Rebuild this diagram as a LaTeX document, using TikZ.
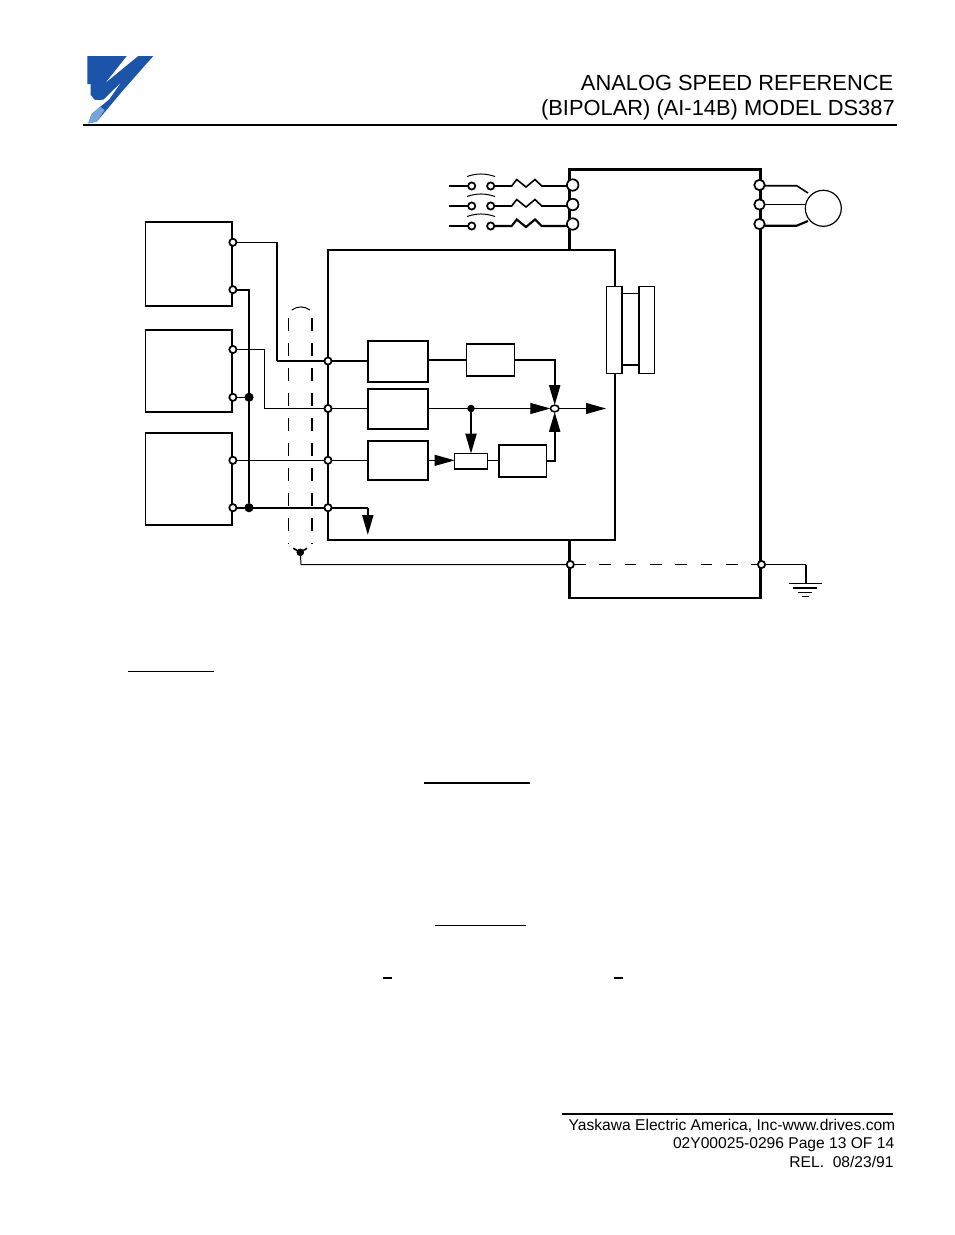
\documentclass[tikz,border=0pt]{standalone}
\usepackage{fontspec}
\setmainfont{Liberation Sans}
\usetikzlibrary{arrows.meta,shapes.geometric}
\definecolor{logoBlue}{RGB}{28,84,170}
\definecolor{logoPale}{RGB}{120,165,215}
\begin{document}
\begin{tikzpicture}[x = 0.75pt, y = -0.75pt]
\tikzstyle{thinLine} = [line width = 0.75pt]
\tikzstyle{medLine} = [line width = 1.2pt]
\tikzstyle{thickLine} = [line width = 1.6pt]
\tikzstyle{boxStyle} = [shape = rectangle, draw, fill = white, line width = 1.2pt, inner sep = 0pt, outer sep = 0pt]
\tikzstyle{blockStyle} = [boxStyle, line width = 1.5pt]
\tikzstyle{termStyle} = [shape = circle, draw, fill = white, line width = 1.3pt, minimum size = 5.4pt, inner sep = 0pt, outer sep = 0pt]
\tikzstyle{powerStyle} = [termStyle, line width = 1.3pt, minimum size = 8.6pt]
\tikzstyle{dotStyle} = [shape = circle, draw, fill, minimum size = 6.4pt, inner sep = 0pt, outer sep = 0pt]
\tikzstyle{tipStyle} = [-{Triangle[length = 15pt, width = 8.2pt]}]
\tikzstyle{shieldStyle} = [dash pattern = on 9.4pt off 9.35pt]
\tikzstyle{textStyle} = [inner sep = 0pt, anchor = base east]
\useasboundingbox (0,0) rectangle (954,1235);
% logo
\fill[logoBlue] (87.3,56) -- (126.7,56) -- (105,83.3) -- (138.3,56) -- (153.3,56)
 -- (123.3,90) -- (96.7,121.7) -- (88.3,123.3) -- (91.7,114) -- (109.3,99.3) -- (121.7,81.7) -- (103.3,99.7)
 -- (95,100) -- (90.7,95) -- (90.7,84) -- (87.3,84) -- cycle;
\fill[logoPale] (91.7,114) -- (100,106.5) -- (104.5,110) -- (96.7,121.7) -- (88.3,123.3) -- cycle;
% header
\draw[line width = 1.5pt] (83,124.5) -- (897,124.5);
\node[textStyle, font = \fontsize{16.4}{20}\selectfont] (title1) at (893.5,90) {ANALOG SPEED REFERENCE};
\node[textStyle, font = \fontsize{16.4}{20}\selectfont] (title2) at (895,115) {(BIPOLAR) (AI-14B) MODEL DS387};
% boxes
\node[boxStyle, line width = 1.7pt, minimum width = 143.25pt, minimum height = 321.4pt] (drive) at (665,383.75) {};
\node[blockStyle, minimum width = 215.25pt, minimum height = 217.5pt] (ctrl) at (471.5,395) {};
\node[boxStyle, minimum width = 64.9pt, minimum height = 63pt] (sourceA) at (188.75,264) {};
\node[boxStyle, minimum width = 64.9pt, minimum height = 61.7pt] (sourceB) at (188.75,371.15) {};
\node[boxStyle, minimum width = 64.9pt, minimum height = 69.2pt] (sourceC) at (188.75,478.85) {};
\node[blockStyle, minimum width = 45pt, minimum height = 30.5pt] (ampA) at (397.8,361.65) {};
\node[blockStyle, minimum width = 45pt, minimum height = 30.2pt] (ampB) at (397.8,409.15) {};
\node[blockStyle, minimum width = 45pt, minimum height = 29.5pt] (ampC) at (397.8,460.35) {};
\node[boxStyle, minimum width = 36pt, minimum height = 24.2pt] (gainA) at (490.3,359.85) {};
\node[boxStyle, minimum width = 24.5pt, minimum height = 11.5pt] (mult) at (471,461.35) {};
\node[boxStyle, minimum width = 35.7pt, minimum height = 24.2pt] (gainB) at (522.5,460.85) {};
\node[boxStyle, minimum width = 11.5pt, minimum height = 65.25pt] (barA) at (614.35,329.8) {};
\node[boxStyle, minimum width = 11.7pt, minimum height = 65.25pt] (barB) at (646.5,329.8) {};
\node[shape = circle, draw, line width = 0.9pt, minimum size = 27pt, inner sep = 0pt, outer sep = 0pt] (motor) at (823.3,208.3) {};
\node[shape = ellipse, draw, fill = white, line width = 1.2pt, minimum width = 6.4pt, minimum height = 5pt, inner sep = 0pt, outer sep = 0pt] (sum) at (554.7,408.5) {};
% terminals
\node[powerStyle] (L1) at (572.7,185) {};
\node[powerStyle] (L2) at (572.7,204.5) {};
\node[powerStyle] (L3) at (572.7,224) {};
\node[powerStyle, minimum size = 7.8pt] (U1) at (759.5,185) {};
\node[powerStyle, minimum size = 7.8pt] (U2) at (759.5,204.5) {};
\node[powerStyle, minimum size = 7.8pt] (U3) at (759.5,224) {};
\node[termStyle] (cA1) at (471.7,186) {};
\node[termStyle] (cA2) at (490.7,186) {};
\node[termStyle] (cB1) at (471.7,206) {};
\node[termStyle] (cB2) at (490.7,206) {};
\node[termStyle] (cC1) at (471.7,226) {};
\node[termStyle] (cC2) at (490.7,226) {};
\node[termStyle] (a1) at (232.9,242.3) {};
\node[termStyle] (a2) at (232.9,289.7) {};
\node[termStyle] (b1) at (232.9,349.5) {};
\node[termStyle] (b2) at (232.9,397.3) {};
\node[termStyle] (c1) at (232.9,460.3) {};
\node[termStyle] (c2) at (232.9,507.7) {};
\node[termStyle] (in1) at (328,361) {};
\node[termStyle] (in2) at (328,408.5) {};
\node[termStyle] (in3) at (328,460.3) {};
\node[termStyle] (in4) at (328,507.7) {};
\node[termStyle] (gndL) at (570.3,564.5) {};
\node[termStyle] (gndR) at (761.5,564.5) {};
\node[dotStyle] (d1) at (249,397.3) {};
\node[dotStyle] (d2) at (249,507.7) {};
\node[dotStyle, minimum size = 5.2pt] (d3) at (471,408.5) {};
\node[dotStyle, minimum size = 5.2pt] (d4) at (300.3,552.3) {};
% corners and free ends
\coordinate (k1) at (277,242.3);
\coordinate (k2) at (277,361);
\coordinate (k3) at (249,289.7);
\coordinate (k4) at (264.5,349.5);
\coordinate (k5) at (264.5,408.5);
\coordinate (k6) at (367.8,507.7);
\coordinate (k7) at (367.8,535);
\coordinate (k8) at (301,564.5);
\coordinate (k9) at (806,564.5);
\coordinate (k10) at (806,583.3);
\coordinate (out) at (606,408.5);
\coordinate (sA) at (288.3,318);
\coordinate (sB) at (288.3,544);
\coordinate (sC) at (312,318);
\coordinate (sD) at (312,544);
\coordinate (sE) at (291.7,310);
\coordinate (sF) at (310,310);
\coordinate (sG) at (293.3,548.3);
\coordinate (sH) at (307,548.3);
% input side
\draw[medLine] (449,186) -- (cA1);
\draw[medLine] (449,206) -- (cB1);
\draw[thickLine] (449,226) -- (cC1);
\draw[medLine] (cA2) -- (511.7,186) -- ++(5,-6.5) -- ++(9.3,7.5) -- ++(9,-7.5) -- ++(6.7,6.5) -- (L1.west |- cA2);
\draw[medLine] (cB2) -- (511.7,206) -- ++(5,-6.5) -- ++(9.3,7.5) -- ++(9,-7.5) -- ++(6.7,6.5) -- (L2.west |- cB2);
\draw[thickLine] (cC2) -- (511.7,226) -- ++(5,-6.5) -- ++(9.3,7.5) -- ++(9,-7.5) -- ++(6.7,6.5) -- (L3.west |- cC2);
\draw[thinLine] (467,176.5) to[bend left = 18] (495,176.5);
\draw[thinLine] (467,196.5) to[bend left = 18] (495,196.5);
\draw[thinLine] (467,216.5) to[bend left = 18] (495,216.5);
% motor side
\draw[medLine] (U1.east |- 0,185.7) -- (796.7,185.7) -- (808,193);
\draw[medLine] (U2) -- (U2 -| motor.west);
\draw[thickLine] (U3.east |- 0,225.7) -- (796.7,225.7) -- (808,221);
% reference wiring
\draw[thinLine] (a1) -- (k1);
\draw[medLine] (k1) -- (k2);
\draw[thickLine] (k2) -- (in1);
\draw[thickLine] (a2) -- (k3) -- (d2);
\draw[thinLine] (b1) -- (k4) -- (k5) -- (in2);
\draw[medLine] (b2) -- (d1);
\draw[thinLine] (c1) -- (in3);
\draw[thickLine] (c2) -- (d2) -- (in4);
\draw[thickLine] (in1) -- (ampA.west |- in1);
\draw[thinLine] (in2) -- (ampB.west |- in2);
\draw[thinLine] (in3) -- (ampC.west |- in3);
\draw[thickLine] (in4) -- (k6);
\draw[thickLine, tipStyle] (k6) -- (k7);
% shield
\draw[thinLine, shieldStyle] (sA) -- (sB);
\draw[medLine, shieldStyle] (sC) -- (sD);
\draw[thinLine] (sE) to[bend left = 35] (sF);
\draw[medLine] (sG) -- (d4);
\draw[medLine] (sH) -- (d4);
\draw[thinLine] (d4) -- (k8) -- (gndL);
\draw[thinLine, dash pattern = on 8.8pt off 10.2pt] (gndL) -- (gndR);
\draw[thinLine] (gndR) -- (k9);
\draw[medLine] (k9) -- (k10);
% ground
\draw[medLine] (789.3,583.3) -- (821.7,583.3);
\draw[medLine] (793.3,587.7) -- (817.3,587.7);
\draw[thinLine] (798.3,592) -- (812.3,592);
\draw[thinLine] (802.3,596) -- (809,596);
% control blocks
\draw[thickLine] (ampA.east |- gainA.east) -- (gainA.west);
\draw[thickLine, tipStyle] (gainA.east) -| (sum);
\draw[thinLine, tipStyle] (ampB.east |- sum) -- (sum);
\draw[thickLine, tipStyle] (d3) -- (mult);
\draw[thinLine, tipStyle] (ampC.east) -- (ampC.east -| mult.west);
\draw[thinLine] (mult.east |- gainB.west) -- (gainB.west);
\draw[thickLine, tipStyle] (gainB.east) -| (sum);
\draw[thinLine, tipStyle] (sum) -- (out);
\draw[thinLine] (barA.east |- 0,293.3) -- (barB.west |- 0,293.3);
\draw[thickLine] (barA.east |- 0,364.7) -- (barB.west |- 0,364.7);
% rules of the missing text
\draw[thinLine] (128,671.3) -- (214,671.3);
\draw[line width = 1.5pt] (424,782.7) -- (530,782.7);
\draw[thinLine] (435,925.4) -- (526,925.4);
\draw[line width = 1.5pt] (383,978) -- (392,978);
\draw[line width = 1.5pt] (614,978) -- (623,978);
% footer
\draw[line width = 1.4pt] (562,1114) -- (893,1114);
\node[textStyle, font = \fontsize{11.7}{14}\selectfont] (foot1) at (895.5,1130.3) {Yaskawa Electric America, Inc-www.drives.com};
\node[textStyle, font = \fontsize{11.7}{14}\selectfont] (foot2) at (894.5,1148) {02Y00025-0296 Page 13 OF 14};
\node[textStyle, font = \fontsize{11.7}{14}\selectfont] (foot3) at (893.8,1167) {REL.~~08/23/91};
\end{tikzpicture}
\end{document}
